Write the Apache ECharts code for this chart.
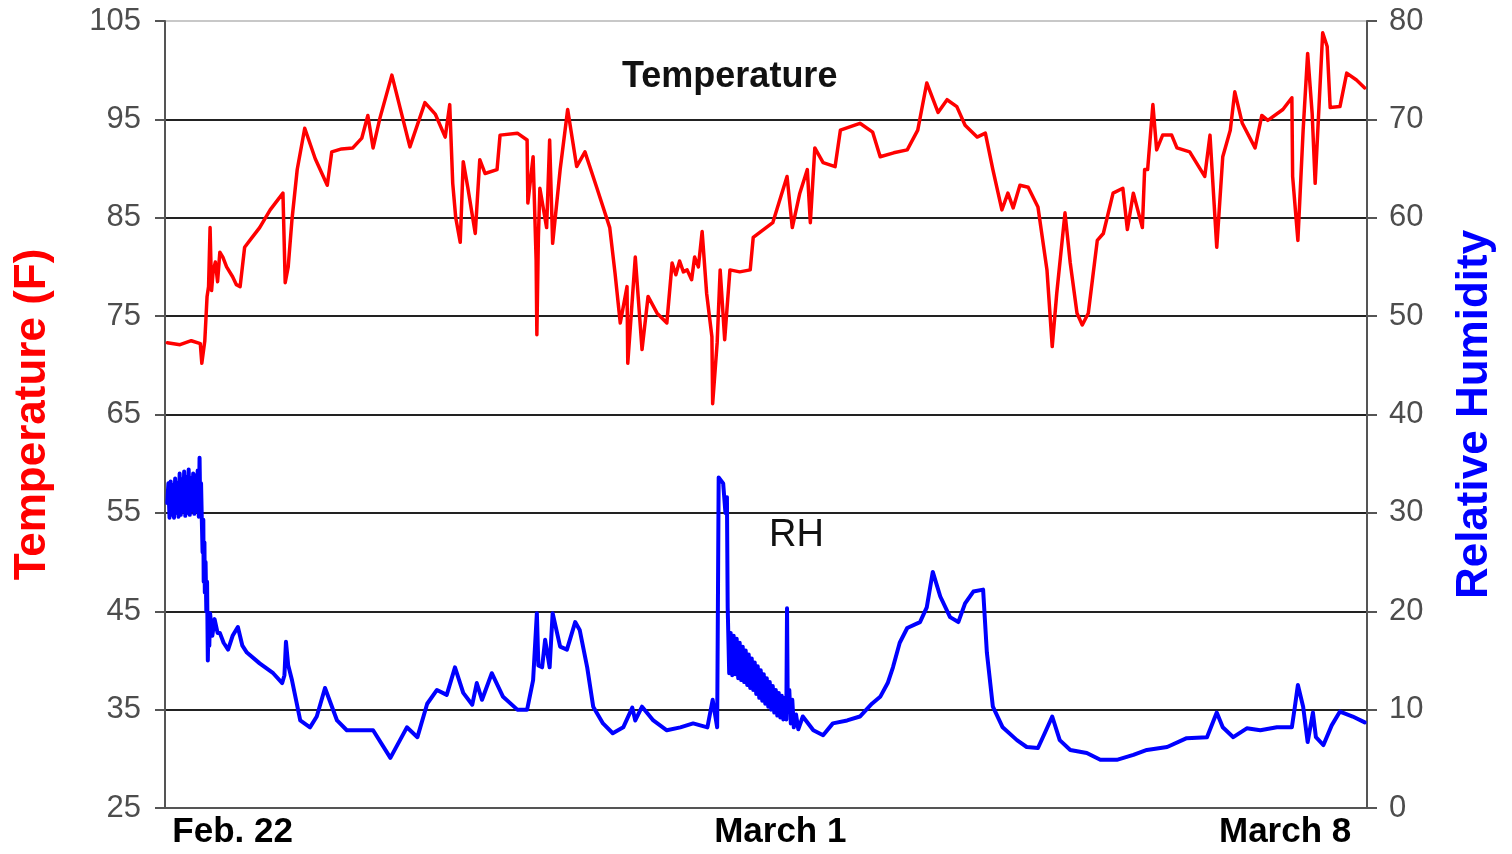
<!DOCTYPE html>
<html>
<head>
<meta charset="utf-8">
<script src="https://cdn.jsdelivr.net/npm/echarts@6/dist/echarts.min.js"></script>
<style>
html,body{margin:0;padding:0;background:#fff;}
#chart{width:1512px;height:854px;}
</style>
</head>
<body>
<div id="chart"></div>
<script>
// x = days since start of record
const xLabelDays = [0.9, 8.19, 14.91];
const xLabelTexts = ['Feb. 22', 'March 1', 'March 8'];
const tempTicks = [25, 35, 45, 55, 65, 75, 85, 95, 105];
const rhTicks = [0, 10, 20, 30, 40, 50, 60, 70, 80];

const tempSeries = [
[0.03,72.3],[0.2,72.1],[0.35,72.5],[0.47,72.2],[0.49,70.2],[0.53,72.5],[0.56,77],[0.58,78],[0.60,84],[0.62,77.6],
[0.64,79.5],[0.67,80.5],[0.70,78.5],[0.73,81.5],[0.77,81],[0.82,80],[0.9,79],[0.95,78.2],[1.00,78],[1.06,82],
[1.16,83],[1.26,84],[1.40,85.8],[1.57,87.5],[1.59,87.5],[1.60,78.4],[1.64,80],[1.69,84.8],[1.76,89.9],[1.86,94.1],
[2.00,91],[2.16,88.3],[2.22,91.7],[2.35,92],[2.50,92.1],[2.62,93.1],[2.70,95.4],[2.77,92.1],[2.86,95.1],[3.02,99.5],
[3.26,92.2],[3.46,96.7],[3.60,95.5],[3.73,93.2],[3.79,96.5],[3.83,88.5],[3.87,85],[3.93,82.5],[3.97,90.7],[4.03,88.1],
[4.13,83.4],[4.19,90.9],[4.26,89.5],[4.42,89.9],[4.46,93.4],[4.69,93.6],[4.82,92.9],[4.83,86.5],[4.90,91.2],[4.94,80.7],
[4.95,73.1],[4.97,83],[4.99,88],[5.08,84],[5.12,92.9],[5.16,82.4],[5.26,89.9],[5.36,96],[5.48,90.2],[5.59,91.7],
[5.75,88],[5.92,84],[5.99,79.4],[6.06,74.3],[6.15,78],[6.16,70.2],[6.26,81],[6.35,71.6],[6.43,77],[6.55,75.3],
[6.68,74.3],[6.75,80.4],[6.80,79.2],[6.85,80.6],[6.90,79.5],[6.95,79.7],[7.01,78.7],[7.05,81],[7.10,80],[7.15,83.6],
[7.21,77.3],[7.28,72.9],[7.29,66.1],[7.35,72.3],[7.39,79.7],[7.45,72.6],[7.52,79.7],[7.65,79.5],[7.79,79.7],[7.83,83],
[8.09,84.5],[8.28,89.2],[8.35,84],[8.45,87.5],[8.55,89.9],[8.59,84.5],[8.65,92.1],[8.76,90.6],[8.92,90.2],[8.99,93.9],
[9.25,94.6],[9.42,93.7],[9.52,91.2],[9.70,91.6],[9.88,91.9],[10.02,93.9],[10.14,98.7],[10.29,95.7],[10.41,97],[10.54,96.3],
[10.65,94.4],[10.81,93.2],[10.92,93.6],[11.02,89.9],[11.14,85.8],[11.22,87.5],[11.29,86],[11.38,88.3],[11.49,88.1],[11.62,86.1],
[11.74,79.7],[11.81,71.9],[11.87,77.3],[11.98,85.5],[12.05,80.4],[12.14,75.3],[12.21,74.1],[12.29,75.3],[12.35,79],[12.41,82.7],
[12.49,83.4],[12.62,87.5],[12.75,88],[12.81,83.8],[12.89,87.5],[13.01,84],[13.04,89.9],[13.08,89.9],[13.15,96.5],[13.20,91.9],
[13.28,93.4],[13.40,93.4],[13.47,92.1],[13.64,91.7],[13.84,89.2],[13.91,93.4],[14.00,82],[14.08,91.2],[14.18,93.9],[14.24,97.8],
[14.34,94.6],[14.51,92.1],[14.60,95.4],[14.68,94.9],[14.88,96],[15.00,97.2],[15.01,89.2],[15.08,82.7],[15.15,93.9],[15.21,101.7],
[15.27,95.6],[15.31,88.5],[15.41,103.8],[15.47,102.4],[15.51,96.2],[15.64,96.3],[15.73,99.7],[15.86,99],[15.97,98.2]
];

const rhSeries = [
[0.03,31],[0.045,33],[0.06,29.5],[0.075,33.2],[0.09,29.8],[0.105,32.8],[0.12,29.5],[0.135,33.5],[0.15,30],[0.165,33],
[0.18,29.6],[0.195,34],[0.21,29.8],[0.225,33.4],[0.24,30.2],[0.255,34.2],[0.27,29.7],[0.285,33.6],[0.30,30],[0.315,34.4],
[0.33,29.8],[0.345,33.5],[0.36,30.3],[0.375,34],[0.39,29.9],[0.405,33.8],[0.42,30.2],[0.435,34.3],[0.45,29.6],[0.46,35.6],
[0.47,30],[0.48,33],[0.49,29.3],[0.50,26],[0.51,29.3],[0.515,23],[0.525,27],[0.53,21.9],[0.54,25],[0.55,20],
[0.56,23],[0.57,15.0],[0.58,19.5],[0.59,16.5],[0.60,19.8],[0.63,17.5],[0.66,19.2],[0.70,17.8],[0.73,17.8],[0.78,16.8],
[0.84,16.1],[0.90,17.5],[0.97,18.4],[1.03,16.5],[1.09,15.8],[1.26,14.7],[1.44,13.7],[1.56,12.7],[1.59,13.5],[1.61,16.9],
[1.64,14.5],[1.69,13.0],[1.80,8.9],[1.93,8.2],[2.02,9.3],[2.13,12.2],[2.29,8.9],[2.42,7.9],[2.77,7.9],[3.00,5.1],
[3.22,8.2],[3.36,7.2],[3.49,10.6],[3.62,12.0],[3.75,11.5],[3.86,14.3],[3.97,11.7],[4.09,10.5],[4.15,12.7],[4.22,11.0],
[4.35,13.7],[4.50,11.3],[4.69,10.0],[4.82,10.0],[4.90,13.0],[4.95,19.8],[4.97,14.5],[5.02,14.3],[5.06,17.1],[5.12,14.3],
[5.16,19.8],[5.26,16.4],[5.35,16.1],[5.46,18.9],[5.52,18.1],[5.62,14.3],[5.70,10.3],[5.83,8.6],[5.96,7.6],[6.10,8.2],
[6.22,10.2],[6.26,8.9],[6.35,10.3],[6.50,8.9],[6.68,7.9],[6.86,8.2],[7.03,8.6],[7.22,8.2],[7.29,11.0],[7.35,8.2],
[7.37,33.6],[7.43,33.0],[7.46,30],[7.48,31.6],[7.49,20.4],[7.51,13.7],[7.53,17.8],[7.55,13.5],[7.57,17.5],[7.59,13.6],
[7.61,17.2],[7.63,13.2],[7.65,16.8],[7.67,13],[7.69,16.4],[7.71,12.8],[7.73,16],[7.75,12.5],[7.77,15.6],[7.79,12.2],
[7.81,15.2],[7.83,12],[7.85,14.8],[7.87,11.6],[7.89,14.4],[7.91,11.2],[7.93,14],[7.95,10.9],[7.97,13.6],[7.99,10.6],
[8.01,13.2],[8.03,10.3],[8.05,12.8],[8.07,10],[8.09,12.4],[8.11,9.7],[8.13,12],[8.15,9.4],[8.17,11.7],[8.19,9.2],
[8.21,11.4],[8.23,9],[8.25,11.2],[8.27,9],[8.28,20.3],[8.29,10],[8.31,12],[8.33,8.6],[8.35,11],[8.37,8.2],
[8.40,9.5],[8.43,8.0],[8.49,9.3],[8.63,7.9],[8.76,7.4],[8.89,8.6],[9.08,8.9],[9.25,9.3],[9.41,10.6],[9.52,11.3],
[9.62,12.7],[9.69,14.3],[9.78,16.8],[9.88,18.3],[10.05,18.9],[10.14,20.4],[10.22,24.0],[10.32,21.5],[10.45,19.4],[10.56,18.9],
[10.65,20.8],[10.76,22.0],[10.89,22.2],[10.94,15.8],[11.02,10.3],[11.15,8.2],[11.34,6.9],[11.47,6.2],[11.62,6.1],[11.71,7.6],
[11.81,9.3],[11.91,6.9],[12.05,5.9],[12.27,5.6],[12.45,4.9],[12.67,4.9],[12.89,5.4],[13.07,5.9],[13.34,6.2],[13.60,7.1],
[13.87,7.2],[14.00,9.7],[14.08,8.2],[14.22,7.2],[14.40,8.1],[14.58,7.9],[14.80,8.2],[15.00,8.2],[15.04,10.3],[15.08,12.5],
[15.15,10.3],[15.21,6.7],[15.28,9.7],[15.32,7.2],[15.42,6.4],[15.53,8.4],[15.64,9.8],[15.81,9.3],[15.97,8.7]
];

const FONT = '"Liberation Sans", Arial, sans-serif';
const chart = echarts.init(document.getElementById('chart'), null, {renderer: 'canvas'});

const gridColors = tempTicks.map((t, i) => i === tempTicks.length - 1 ? '#c8c8c8' : '#222');

chart.setOption({
  animation: false,
  backgroundColor: '#fff',
  grid: {left: 165, right: 145, top: 21, bottom: 46, containLabel: false, outerBoundsMode: 'none'},
  xAxis: {
    type: 'value', min: 0, max: 16,
    axisLine: {show: true, lineStyle: {color: '#555', width: 2}},
    axisTick: {show: false},
    splitLine: {show: false},
    axisLabel: {
      customValues: xLabelDays,
      formatter: function (v) {
        let best = 0;
        for (let i = 0; i < xLabelDays.length; i++) {
          if (Math.abs(xLabelDays[i] - v) < Math.abs(xLabelDays[best] - v)) best = i;
        }
        return xLabelTexts[best];
      },
      color: '#000', fontFamily: FONT, fontWeight: 'bold', fontSize: 35, margin: 7
    }
  },
  yAxis: [
    {
      type: 'value', min: tempTicks[0], max: tempTicks[tempTicks.length - 1], interval: 10,
      position: 'left',
      name: 'Temperature (F)', nameLocation: 'middle', nameRotate: 90, nameGap: 110,
      nameTextStyle: {color: '#ff0000', fontFamily: FONT, fontWeight: 'bold', fontSize: 44},
      axisLine: {show: true, lineStyle: {color: '#555', width: 2}},
      axisTick: {show: true, inside: false, length: 10, lineStyle: {color: '#555', width: 2}},
      axisLabel: {color: '#4d4d4d', fontFamily: FONT, fontSize: 31, margin: 24},
      splitLine: {show: true, lineStyle: {color: gridColors, width: 2}}
    },
    {
      type: 'value', min: rhTicks[0], max: rhTicks[rhTicks.length - 1], interval: 10,
      position: 'right',
      name: 'Relative Humidity', nameLocation: 'middle', nameRotate: 90, nameGap: 86,
      nameTextStyle: {color: '#0000ff', fontFamily: FONT, fontWeight: 'bold', fontSize: 44},
      axisLine: {show: true, lineStyle: {color: '#555', width: 2}},
      axisTick: {show: true, inside: false, length: 10, lineStyle: {color: '#555', width: 2}},
      axisLabel: {color: '#4d4d4d', fontFamily: FONT, fontSize: 31, margin: 22},
      splitLine: {show: false}
    }
  ],
  series: [
    {
      name: 'RH', type: 'line', yAxisIndex: 1, data: rhSeries,
      showSymbol: false, symbol: 'none',
      lineStyle: {color: '#0000ff', width: 4, join: 'round', cap: 'round'}, z: 3
    },
    {
      name: 'Temperature', type: 'line', yAxisIndex: 0, data: tempSeries,
      showSymbol: false, symbol: 'none',
      lineStyle: {color: '#ff0000', width: 3.5, join: 'round', cap: 'round'}, z: 4
    }
  ],
  graphic: [
    {type: 'text', left: 622, top: 59, z: 10,
     style: {text: 'Temperature', fill: '#111', font: 'bold 36px ' + FONT}},
    {type: 'text', left: 769, top: 517, z: 10,
     style: {text: 'RH', fill: '#111', font: '38px ' + FONT}}
  ]
});
</script>
</body>
</html>
